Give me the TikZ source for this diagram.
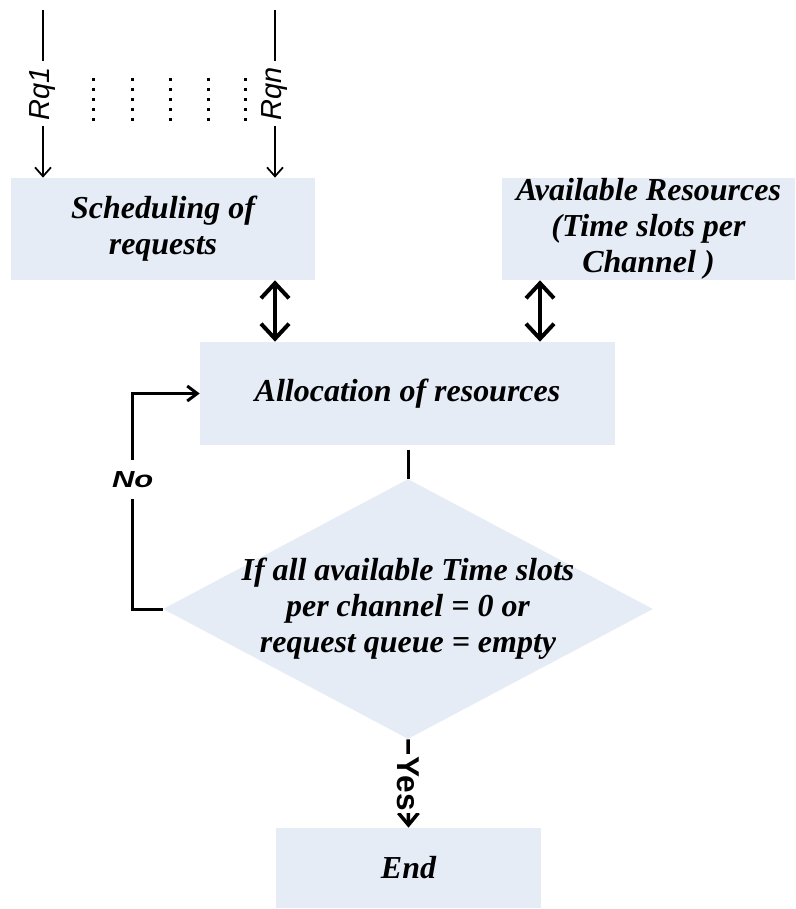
\documentclass[tikz,border=0pt]{standalone}
\usepackage{fontspec}
\setmainfont{Liberation Serif}
\setsansfont{Liberation Sans}
\usepackage{tikz}
\usetikzlibrary{arrows.meta,shapes.geometric,positioning,calc}
\definecolor{boxfill}{RGB}{230,236,246}

\begin{document}
\begin{tikzpicture}[x=0.02cm, y=-0.02cm,
    box/.style={rectangle, fill=boxfill, inner sep=0pt, align=center,
                font=\fontsize{18.2}{20.5}\selectfont\bfseries\itshape},
    decision/.style={diamond, fill=boxfill, inner sep=0pt},
    rqline/.style={line width=1pt, -{Straight Barb[length=0.18cm,width=0.32cm]}},
    rqlabel/.style={fill=white, rotate=90, inner xsep=3.4pt, inner ysep=1pt,
                font=\fontsize{16.5}{18}\selectfont\sffamily\itshape},
    dotcol/.style={line width=0.06cm, dash pattern=on 0.06cm off 0.14cm},
    dbl/.style={line width=0.08cm, {Straight Barb[length=0.3cm,width=0.56cm]}-{Straight Barb[length=0.3cm,width=0.56cm]}},
    plainline/.style={line width=0.06cm},
    loopline/.style={line width=0.06cm, -{Straight Barb[length=0.2cm,width=0.3cm]}},
    nolabel/.style={fill=white, inner xsep=1pt, inner ysep=6.5pt,
                font=\fontsize{17.6}{20}\selectfont\sffamily\bfseries\itshape},
    yesline/.style={line width=0.07cm, -{Straight Barb[length=0.24cm,width=0.4cm]}},
    yeslabel/.style={fill=white, rotate=-90, inner xsep=1pt, inner ysep=1pt,
                font=\fontsize{18}{20}\selectfont\sffamily\bfseries}]

    \useasboundingbox (0,0) rectangle (795,909);

    \node[box, minimum width=6.08cm, minimum height=2.04cm]  (sched)      at (163,229)     {Scheduling of\\requests};
    \node[box, minimum width=5.86cm, minimum height=2.04cm]  (avail)      at (648.5,229)   {Available Resources\\(Time slots per\\Channel )};
    \node[box, minimum width=8.3cm, minimum height=2.06cm]   (alloc)      at (407.5,393.5) {Allocation of resources};
    \node[decision, minimum width=9.8cm, minimum height=5.2cm] (check)    at (408,609)     {};
    \node[box, fill=none]                                    (checktext)  at (check.center) {If all available Time slots\\per channel = 0 or\\request queue = empty};
    \node[box, minimum width=5.3cm, minimum height=1.6cm]    (done)       at (408.5,868)   {End};

    \coordinate (rq1)  at (43,10);
    \coordinate (rqn)  at (275,10);
    \coordinate (rgap) at (540,0);

    \draw[rqline] (rq1) -- node[rqlabel] {Rq1} (rq1 |- sched.north);
    \draw[rqline] (rqn) -- node[rqlabel] {Rqn} (rqn |- sched.north);
    \foreach \x in {93,132,170,208,245}
        \draw[dotcol] (\x,78) -- (\x,121);

    \draw[dbl]       (sched.south -| rqn)  -- (alloc.north -| rqn);
    \draw[dbl]       (avail.south -| rgap) -- (alloc.north -| rgap);
    \draw[plainline] ([yshift=-0.1cm]alloc.south -| check.north) -- (check.north);
    \draw[loopline]  (check.west) -- ++(-30,0) |- node[pos=0.3, nolabel] {\scalebox{1}[0.75]{No}} (alloc.west);
    \draw[yesline]   (check.south) -- node[yeslabel] {Yes} (done.north);
\end{tikzpicture}
\end{document}
